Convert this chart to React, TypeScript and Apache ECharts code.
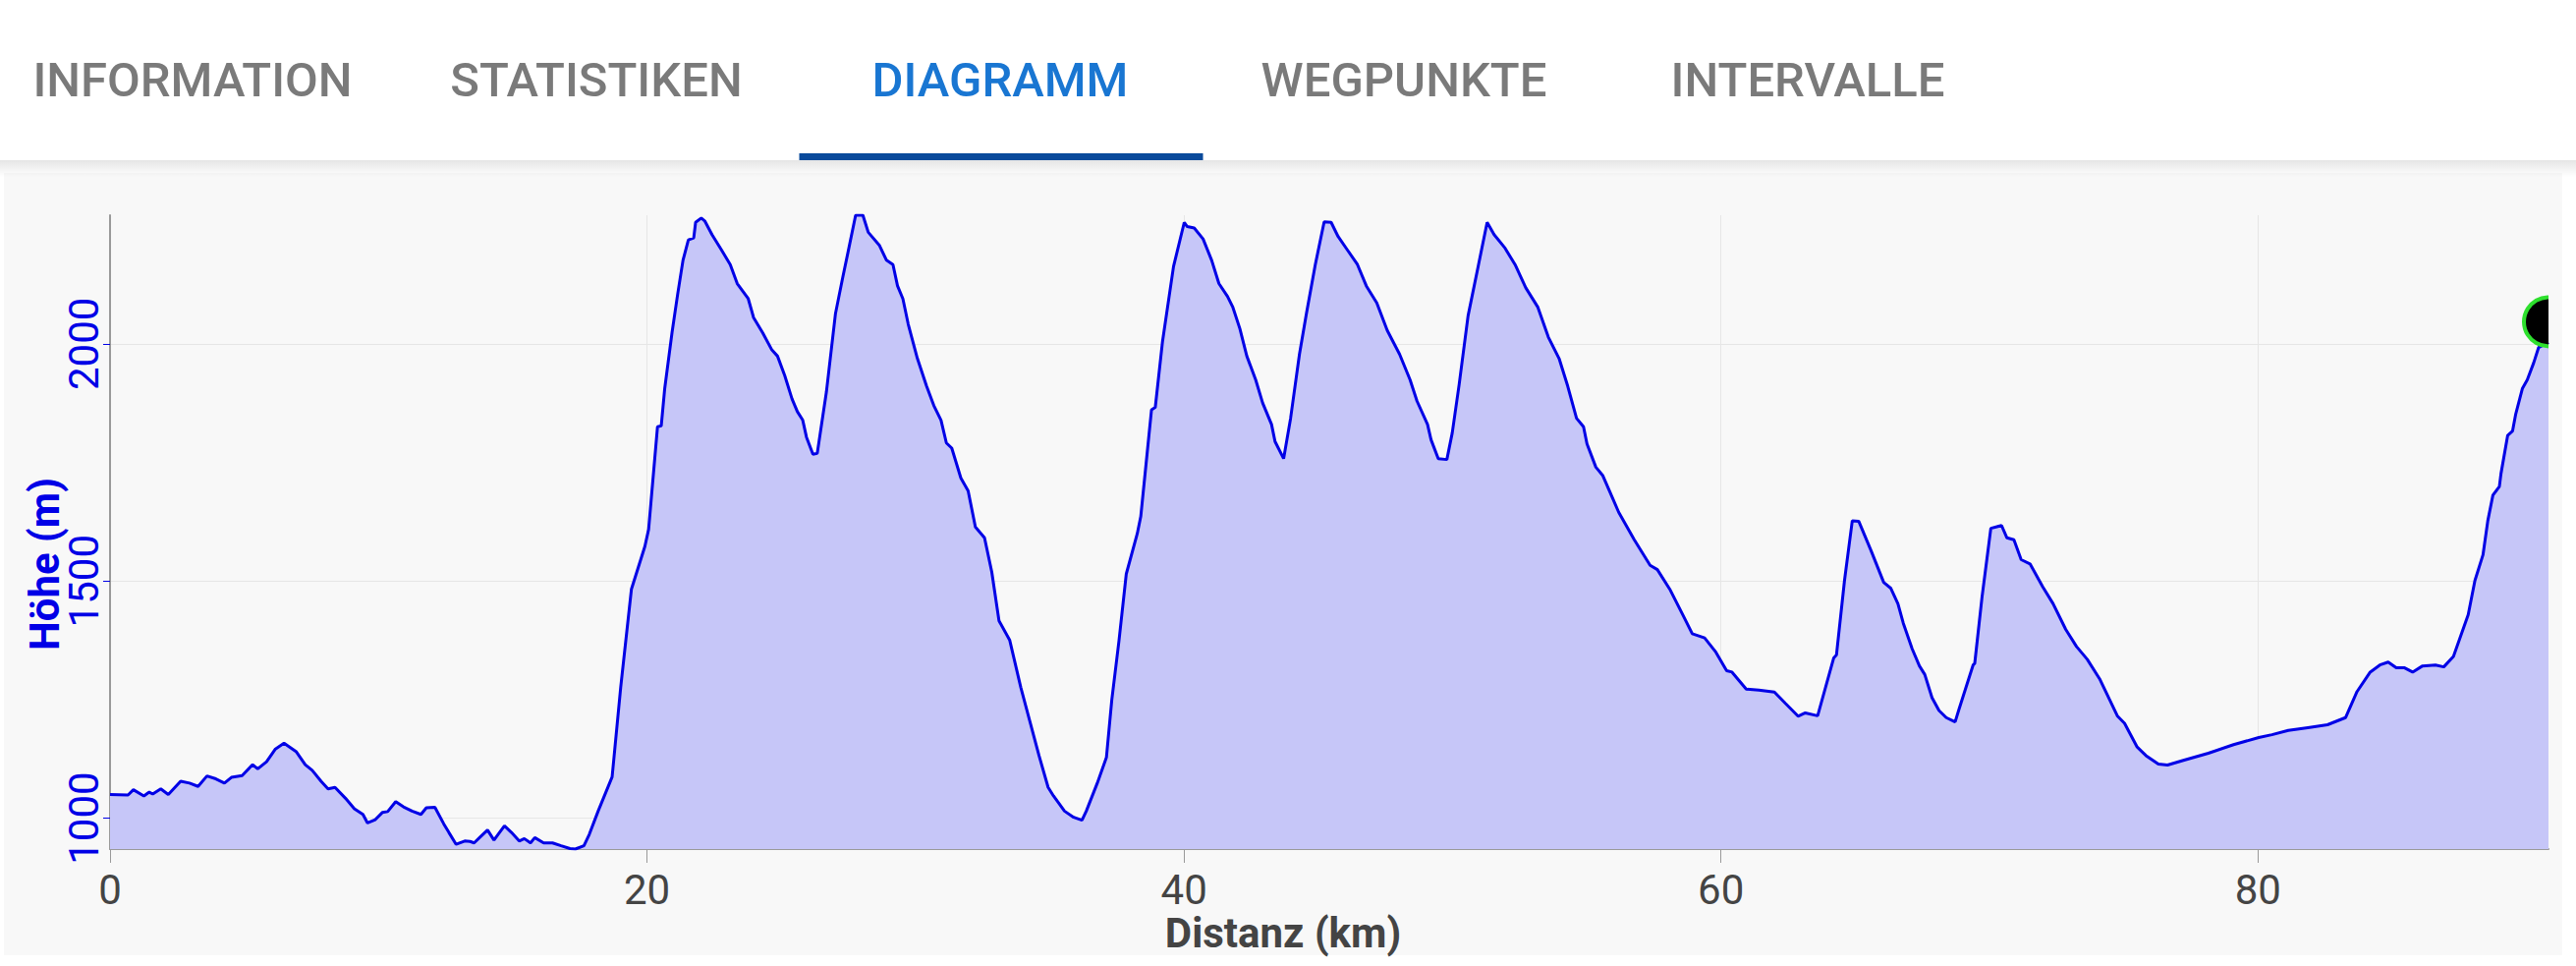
import React, { useEffect, useRef } from "react";
import * as echarts from "echarts";

const distanceKm = [
  0, 0.67, 0.87, 1.26, 1.46, 1.59, 1.89, 2.17, 2.63, 2.96, 3.28, 3.61, 3.94, 4.26, 4.52, 4.92, 5.31, 5.5, 5.83, 6.16,
  6.48, 6.94, 7.27, 7.53, 7.86, 8.12, 8.38, 8.77, 9.1, 9.42, 9.59, 9.88, 10.14, 10.34, 10.64, 10.93, 11.25, 11.58,
  11.78, 12.1, 12.43, 12.62, 12.89, 13.21, 13.41, 13.56, 13.8, 14.06, 14.3, 14.69, 14.95, 15.24, 15.43, 15.66, 15.82,
  16.15, 16.48, 16.8, 17.13, 17.33, 17.65, 17.85, 18.18, 18.7, 19.02, 19.42, 19.92, 20.06, 20.39, 20.53, 20.66, 20.93,
  21.14, 21.34, 21.54, 21.74, 21.81, 22.02, 22.15, 22.42, 22.76, 23.1, 23.36, 23.77, 23.97, 24.31, 24.65, 24.86, 25.13,
  25.4, 25.6, 25.8, 25.94, 26.18, 26.34, 26.68, 27.02, 27.29, 27.49, 27.77, 28.04, 28.24, 28.65, 28.92, 29.16, 29.33,
  29.53, 29.73, 30.07, 30.41, 30.68, 30.95, 31.15, 31.35, 31.69, 31.96, 32.23, 32.57, 32.84, 33.11, 33.51, 33.92, 34.26,
  34.6, 34.94, 35.14, 35.55, 35.89, 36.2, 36.36, 36.77, 37.11, 37.31, 37.58, 37.85, 38.26, 38.39, 38.79, 38.93, 39.2,
  39.61, 40.01, 40.12, 40.38, 40.71, 41.03, 41.3, 41.62, 41.82, 42.08, 42.34, 42.67, 42.93, 43.26, 43.39, 43.71, 43.97,
  44.3, 44.56, 44.89, 45.22, 45.48, 45.74, 46.07, 46.46, 46.79, 47.18, 47.57, 48.03, 48.42, 48.68, 49.07, 49.2, 49.47,
  49.79, 49.99, 50.25, 50.58, 50.97, 51.29, 51.55, 51.94, 52.33, 52.73, 53.18, 53.57, 53.97, 54.29, 54.62, 54.88, 55.01,
  55.34, 55.6, 56.19, 56.77, 57.36, 57.63, 58.09, 58.61, 58.93, 59.39, 59.81, 60.21, 60.41, 60.94, 61.41, 61.99, 62.4,
  62.87, 63.14, 63.6, 64.2, 64.3, 64.6, 64.89, 65.13, 65.59, 66.06, 66.32, 66.59, 66.79, 67.12, 67.39, 67.59, 67.86,
  68.12, 68.39, 68.72, 68.85, 69.39, 69.45, 69.72, 70.05, 70.45, 70.65, 70.91, 71.18, 71.51, 71.98, 72.37, 72.84, 73.24,
  73.64, 74.1, 74.77, 75.03, 75.5, 75.83, 76.29, 76.63, 77.22, 78.15, 79.09, 80.03, 80.52, 81.13, 81.86, 82.59, 83.26,
  83.69, 84.18, 84.54, 84.85, 85.15, 85.46, 85.76, 86.13, 86.61, 86.92, 87.28, 87.83, 88.08, 88.38, 88.56, 88.75, 88.99,
  89.05, 89.3, 89.48, 89.6, 89.85, 90.03, 90.27, 90.45, 90.82,
];

const elevationM = [
  1050, 1049, 1060, 1047, 1055, 1051, 1062, 1050, 1078, 1074, 1067, 1089, 1083, 1074, 1086, 1090, 1113, 1104, 1119, 1146,
  1158, 1140, 1113, 1101, 1078, 1062, 1065, 1042, 1020, 1008, 990, 997, 1012, 1014, 1035, 1024, 1015, 1008,
  1022, 1023, 988, 970, 945, 952, 951, 948, 961, 975, 954, 984, 970, 952, 957, 948, 959,
  948, 948, 942, 936, 935, 942, 966, 1015, 1087, 1276, 1483, 1573, 1609, 1825, 1827, 1906, 2023,
  2104, 2176, 2219, 2223, 2256, 2265, 2259, 2230, 2199, 2167, 2127, 2095, 2055, 2023, 1987, 1974, 1933,
  1884, 1857, 1839, 1803, 1767, 1769, 1898, 2064, 2140, 2194, 2271, 2271, 2235, 2208, 2176, 2167, 2122,
  2095, 2041, 1969, 1911, 1870, 1839, 1791, 1780, 1717, 1690, 1614, 1591, 1519, 1416, 1375, 1276, 1204,
  1132, 1065, 1047, 1015, 1002, 996, 1015, 1074, 1128, 1249, 1375, 1515, 1600, 1636, 1861, 1866, 2005,
  2163, 2256, 2247, 2244, 2221, 2176, 2127, 2100, 2077, 2032, 1974, 1924, 1875, 1830, 1794, 1758, 1843,
  1978, 2064, 2167, 2257, 2256, 2226, 2199, 2167, 2122, 2086, 2028, 1978, 1924, 1879, 1830, 1798, 1758,
  1756, 1812, 1915, 2059, 2167, 2256, 2230, 2203, 2167, 2118, 2077, 2014, 1969, 1911, 1843, 1825, 1789,
  1740, 1722, 1645, 1587, 1533, 1524, 1483, 1425, 1389, 1380, 1350, 1311, 1308, 1272, 1270, 1266, 1242,
  1215, 1222, 1216, 1338, 1344, 1501, 1627, 1626, 1564, 1497, 1485, 1452, 1411, 1357, 1321, 1303, 1254,
  1227, 1212, 1203, 1227, 1323, 1326, 1465, 1611, 1617, 1591, 1587, 1545, 1536, 1488, 1452, 1398, 1362,
  1335, 1294, 1215, 1200, 1150, 1132, 1114, 1112, 1122, 1137, 1155, 1170, 1176, 1185, 1191, 1197, 1212,
  1267, 1308, 1323, 1329, 1317, 1317, 1308, 1321, 1323, 1319, 1341, 1429, 1501, 1555, 1627, 1681, 1699,
  1726, 1807, 1816, 1852, 1906, 1924, 1960, 1992, 2003,
];

const xTickValues = [0, 20, 40, 60, 80];
const yTickValues = [1000, 1500, 2000];
const yRange = [935, 2271];
const tabLabels = ["INFORMATION", "STATISTIKEN", "DIAGRAMM", "WEGPUNKTE", "INTERVALLE"];
const activeTabIndex = 2;
const xAxisTitle = "Distanz (km)";
const yAxisTitle = "Höhe (m)";

export default function App() {
  const ref = useRef<HTMLDivElement>(null);

  useEffect(() => {
    if (!ref.current) return;
    const chart = echarts.init(ref.current, null, { renderer: "svg" });
    const points = distanceKm.map((d, i) => [d, elevationM[i]]);
    const lastPoint = points[points.length - 1];
    const xMax = distanceKm[distanceKm.length - 1];

    const tabWidth = 411;
    const tabCenter0 = 196;

    const graphics: any[] = tabLabels.map((t, i) => ({
      type: "text",
      x: tabCenter0 + i * tabWidth,
      y: 81,
      style: {
        text: t,
        fill: i === activeTabIndex ? "#1976d2" : "#7a7a7a",
        font: "500 49px Roboto",
        textAlign: "center",
        textVerticalAlign: "middle",
      },
    }));
    graphics.push({
      type: "rect",
      shape: { x: tabCenter0 + activeTabIndex * tabWidth - tabWidth / 2 + 1, y: 156, width: tabWidth, height: 7 },
      style: { fill: "#0a4a9b" },
    });
    graphics.push({
      type: "text",
      x: 1306,
      y: 949,
      style: {
        text: xAxisTitle,
        fill: "#444444",
        font: "bold 42px Roboto",
        lineHeight: 30,
        textAlign: "center",
        textVerticalAlign: "middle",
      },
    });
    graphics.push({
      type: "text",
      x: 45,
      y: 574,
      rotation: Math.PI / 2,
      style: {
        text: yAxisTitle,
        fill: "#0000e6",
        font: "bold 42px Roboto",
        lineHeight: 30,
        textAlign: "center",
        textVerticalAlign: "middle",
      },
    });

    chart.setOption({
      animation: false,
      backgroundColor: "transparent",
      grid: { left: 112, right: 28, top: 219, bottom: 119, containLabel: false },
      xAxis: {
        type: "value",
        min: 0,
        max: xMax,
        axisLine: { show: true, onZero: false, lineStyle: { color: "#9a9a9a", width: 2 } },
        axisTick: { show: true, length: 14, customValues: xTickValues, lineStyle: { color: "#9a9a9a", width: 1 } },
        axisLabel: {
          customValues: xTickValues,
          margin: 26,
          lineHeight: 30,
          color: "#444444",
          fontFamily: "Roboto",
          fontSize: 42,
          formatter: (v: number) => String(v),
        },
        splitLine: { show: true, lineStyle: { color: "#e6e6e6", width: 1 } },
      },
      yAxis: {
        type: "value",
        min: yRange[0],
        max: yRange[1],
        axisLine: { show: true, lineStyle: { color: "#9a9a9a", width: 2 } },
        axisTick: { show: true, length: 7, customValues: yTickValues, lineStyle: { color: "#0000e6", width: 1 } },
        axisLabel: {
          customValues: yTickValues,
          rotate: 90,
          margin: 12,
          lineHeight: 30,
          color: "#0000e6",
          fontFamily: "Roboto",
          fontSize: 42,
          formatter: (v: number) => String(v),
        },
        splitLine: { show: true, lineStyle: { color: "#e6e6e6", width: 1 } },
      },
      graphic: graphics,
      series: [
        {
          type: "line",
          data: points,
          showSymbol: false,
          symbol: "none",
          smooth: false,
          lineStyle: { color: "#0000e6", width: 3 },
          areaStyle: { color: "#c6c6f8", opacity: 1, origin: "start" },
          clip: true,
          z: 2,
        },
        {
          type: "custom",
          clip: true,
          z: 5,
          data: [lastPoint],
          renderItem: (params: any, api: any) => {
            const c = api.coord([api.value(0), api.value(1)]);
            return {
              type: "circle",
              shape: { cx: c[0], cy: c[1] - 21, r: 25 },
              style: { fill: "#000000", stroke: "#2ee02e", lineWidth: 4 },
            };
          },
        },
      ],
    });

    return () => chart.dispose();
  }, []);

  return (
    <div style={{ position: "absolute", left: 0, top: 0, width: 2622, height: 983, background: "#ffffff", overflow: "hidden" }}>
      <div style={{ position: "absolute", left: 4, top: 176, width: 2604, height: 796, background: "#f8f8f8" }} />
      <div
        style={{
          position: "absolute",
          left: 0,
          top: 163,
          width: 2622,
          height: 17,
          background: "linear-gradient(to bottom, rgba(0,0,0,0.10), rgba(0,0,0,0))",
        }}
      />
      <div ref={ref} style={{ position: "absolute", left: 0, top: 0, width: 2622, height: 983 }} />
    </div>
  );
}
